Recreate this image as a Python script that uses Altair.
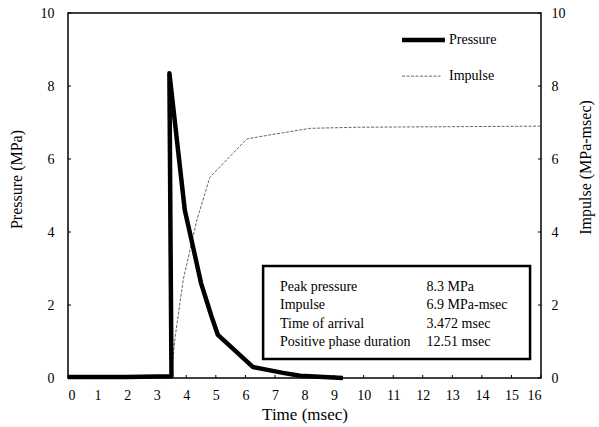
import altair as alt
import pandas as pd

# ---- data ----
p_time = [0.0, 1.0, 2.0, 3.0, 3.5, 3.43, 3.95, 4.2, 4.5, 4.85, 5.07, 6.26, 7.27, 7.85, 9.3]
p_val = [0.03, 0.03, 0.03, 0.04, 0.05, 8.35, 4.6, 3.7, 2.6, 1.7, 1.18, 0.30, 0.14, 0.06, 0.0]

i_time = [0.0, 3.47, 3.55, 3.62, 3.9, 4.35, 4.8, 6.05, 6.83, 8.19, 9.77, 16.0]
i_val = [0.0, 0.0, 0.5, 1.1, 2.7, 4.3, 5.5, 6.55, 6.66, 6.84, 6.87, 6.9]

x_ticks = list(range(0, 17))
y_ticks = [0, 2, 4, 6, 8, 10]

info_labels = ["Peak pressure", "Impulse", "Time of arrival", "Positive phase duration"]
info_values = ["8.3 MPa", "6.9 MPa-msec", "3.472 msec", "12.51 msec"]
info_rows_y = [2.49, 1.99, 1.49, 0.99]

legend_names = ["Pressure", "Impulse"]
legend_y = [9.26, 8.27]

W, H = 473, 365
FONT = "Liberation Serif"

pdf = pd.DataFrame({"t": p_time, "v": p_val, "i": range(len(p_time))})
idf = pd.DataFrame({"t": i_time, "v": i_val, "i": range(len(i_time))})

xs = alt.Scale(domain=[0, 16], nice=False)
ys = alt.Scale(domain=[0, 10], nice=False)

AX = dict(labelFont=FONT, titleFont=FONT, labelFontSize=14,
          labelColor="black", titleColor="black", titleFontWeight="normal",
          ticks=False, grid=False, domain=False)

pressure = alt.Chart(pdf).mark_line(color="black", strokeWidth=4.5, strokeJoin="round").encode(
    x=alt.X("t:Q", scale=xs, title="Time (msec)",
            axis=alt.Axis(values=x_ticks, labelPadding=10, titlePadding=4, titleFontSize=17, **AX)),
    y=alt.Y("v:Q", scale=ys, title="Pressure (MPa)",
            axis=alt.Axis(values=y_ticks, labelPadding=14, titlePadding=16, titleFontSize=16,
                          titleY=166, **AX)),
    order="i:Q",
)

impulse = alt.Chart(idf).mark_line(color="#666666", strokeWidth=1, strokeDash=[3, 1.5]).encode(
    x=alt.X("t:Q", scale=xs, axis=None),
    y=alt.Y("v:Q", scale=ys, title="Impulse (MPa-msec)",
            axis=alt.Axis(orient="right", values=y_ticks, labelPadding=10, titlePadding=28,
                          titleAngle=270, titleFontSize=16, titleY=154, **AX)),
    order="i:Q",
)

# inward ticks
xt = alt.Chart(pd.DataFrame({"t": x_ticks})).mark_rule(color="black", strokeWidth=1).encode(
    x=alt.X("t:Q", scale=xs, axis=None), y=alt.value(H), y2=alt.value(H - 3))
ytl = alt.Chart(pd.DataFrame({"v": y_ticks})).mark_rule(color="black", strokeWidth=1).encode(
    y=alt.Y("v:Q", scale=ys, axis=None), x=alt.value(0), x2=alt.value(3))
ytr = alt.Chart(pd.DataFrame({"v": y_ticks})).mark_rule(color="black", strokeWidth=1).encode(
    y=alt.Y("v:Q", scale=ys, axis=None), x=alt.value(W), x2=alt.value(W - 3))

# legend drawn inside the plot
leg = pd.DataFrame({"name": legend_names, "y": legend_y, "x1": [11.3, 11.3], "x2": [12.75, 12.6],
                    "tx": [12.82, 12.82]})
leg_p = alt.Chart(leg.iloc[[0]]).mark_rule(color="black", strokeWidth=4.5).encode(
    x=alt.X("x1:Q", scale=xs, axis=None), x2="x2:Q", y=alt.Y("y:Q", scale=ys, axis=None))
leg_i = alt.Chart(leg.iloc[[1]]).mark_rule(color="#666666", strokeWidth=1, strokeDash=[3, 1.5]).encode(
    x=alt.X("x1:Q", scale=xs, axis=None), x2="x2:Q", y=alt.Y("y:Q", scale=ys, axis=None))
leg_t = alt.Chart(leg).mark_text(align="left", baseline="middle", font=FONT, fontSize=14,
                                  color="black", dx=2).encode(
    x=alt.X("tx:Q", scale=xs, axis=None), y=alt.Y("y:Q", scale=ys, axis=None), text="name:N")

# info box
box = alt.Chart(pd.DataFrame({"x1": [6.6], "x2": [15.63], "y1": [3.07], "y2": [0.52]})).mark_rect(
    fill="white", stroke="black", strokeWidth=2.5).encode(
    x=alt.X("x1:Q", scale=xs, axis=None), x2="x2:Q",
    y=alt.Y("y1:Q", scale=ys, axis=None), y2="y2:Q")
info = pd.DataFrame({"lab": info_labels, "val": info_values, "y": info_rows_y})
info_l = alt.Chart(info).mark_text(align="left", baseline="middle", font=FONT, fontSize=14,
                                   color="black").encode(
    x=alt.value((7.17 / 16) * W), y=alt.Y("y:Q", scale=ys, axis=None), text="lab:N")
info_r = alt.Chart(info).mark_text(align="left", baseline="middle", font=FONT, fontSize=14,
                                   color="black").encode(
    x=alt.value((12.13 / 16) * W), y=alt.Y("y:Q", scale=ys, axis=None), text="val:N")

chart = alt.layer(
    impulse, pressure, xt, ytl, ytr, leg_p, leg_i, leg_t, box, info_l, info_r
).resolve_scale(x="shared", y="shared").resolve_axis(x="independent", y="independent").properties(
    width=W, height=H,
    autosize=alt.AutoSizeParams(type="none"),
    padding={"left": 68, "top": 13, "right": 58, "bottom": 49},
    background="white",
).configure_view(stroke="black", strokeWidth=1.5)

chart.save("out.html", embed_options={"renderer": "svg", "actions": False})
